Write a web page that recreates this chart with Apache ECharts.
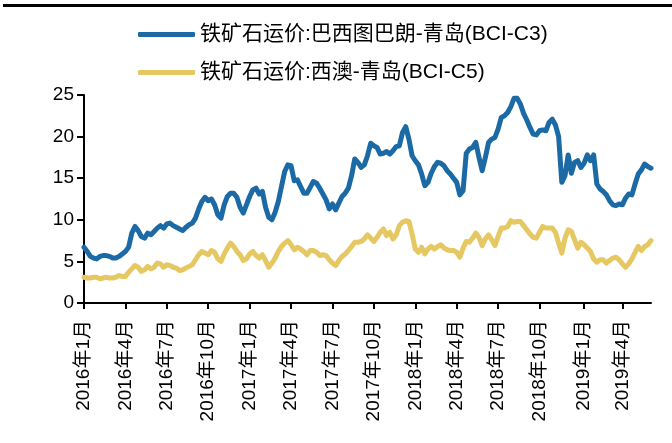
<!DOCTYPE html>
<html>
<head>
<meta charset="utf-8">
<script src="https://cdn.jsdelivr.net/npm/echarts@6/dist/echarts.min.js"></script>
<style>
  html, body { margin: 0; padding: 0; background: #fff; }
  #chart { width: 672px; height: 443px; }
</style>
</head>
<body>
<div id="chart"></div>
<script>
// 周度数据，每周五一个点，2016-01-01 起
var startDate = '2016-01-01';
var weekCount = 179;

var seriesNames = ['铁矿石运价:巴西图巴朗-青岛(BCI-C3)', '铁矿石运价:西澳-青岛(BCI-C5)'];

// 巴西图巴朗-青岛
var c3Values = [
  6.7, 6.2, 5.6, 5.4, 5.3, 5.6, 5.7, 5.7, 5.6, 5.4,
  5.4, 5.6, 5.9, 6.2, 6.7, 8.4, 9.2, 8.7, 8.0, 7.8,
  8.4, 8.2, 8.6, 9.0, 9.3, 9.0, 9.5, 9.6, 9.3, 9.1,
  8.9, 8.7, 9.1, 9.4, 9.6, 10.2, 11.3, 12.2, 12.7, 12.3,
  12.5, 11.8, 10.6, 10.2, 11.8, 12.8, 13.2, 13.2, 12.7, 11.5,
  10.8, 11.8, 12.8, 13.6, 13.8, 13.1, 13.4, 11.5, 10.3, 10.0,
  10.9, 12.2, 14.0, 15.8, 16.6, 16.5, 14.7, 14.8, 14.0, 13.2,
  13.2, 13.9, 14.6, 14.4, 13.8, 13.1, 12.4, 11.3, 11.9, 11.2,
  12.0, 12.8, 13.2, 13.8, 15.3, 17.3, 16.9, 16.3, 16.6, 17.7,
  19.2, 18.9, 18.7, 17.9, 18.0, 18.2, 17.9, 18.3, 18.8, 18.9,
  20.5, 21.2, 19.7, 17.7, 17.1, 16.6, 15.5, 14.1, 14.5, 15.6,
  16.4, 16.9, 16.8, 16.5, 15.9, 15.5, 15.0, 14.5, 13.0, 13.5,
  18.0, 18.5, 18.7, 19.3, 17.5, 15.9, 17.5, 19.3, 19.7, 19.9,
  20.9, 22.3, 22.5, 22.9, 23.6, 24.6, 24.6, 23.9, 22.8, 22.0,
  21.1, 20.3, 20.2, 20.7, 20.8, 20.7, 21.7, 22.1, 21.4, 20.0,
  14.5, 15.3, 17.8, 15.6, 16.9, 17.1, 16.3, 16.8, 17.8, 17.1,
  17.8, 14.3, 13.7, 13.4, 13.0, 12.3, 11.8, 11.7, 11.9, 11.8,
  12.6, 13.1, 13.0, 14.3, 15.5, 16.0, 16.7, 16.4, 16.2
];

// 西澳-青岛
var c5Values = [
  3.1, 3.0, 3.0, 3.1, 3.1, 2.9, 3.0, 3.1, 3.0, 3.0,
  3.1, 3.3, 3.2, 3.2, 3.7, 4.1, 4.5, 4.3, 3.8, 4.0,
  4.4, 4.1, 4.3, 4.8, 4.7, 4.3, 4.6, 4.5, 4.3, 4.2,
  3.9, 4.0, 4.2, 4.4, 4.6, 5.2, 5.8, 6.2, 6.0, 5.8,
  6.3, 6.1, 5.3, 5.0, 5.9, 6.6, 7.2, 6.8, 6.2, 5.8,
  5.1, 5.3, 5.9, 6.2, 5.7, 5.4, 5.8, 5.1, 4.3, 4.8,
  5.4, 6.2, 6.8, 7.2, 7.5, 7.0, 6.4, 6.7, 6.5, 6.2,
  5.8, 6.3, 6.3, 6.1, 5.7, 5.8, 5.7, 5.2, 4.8, 4.5,
  5.1, 5.6, 5.9, 6.3, 6.8, 7.3, 7.3, 7.4, 7.7, 8.2,
  7.8, 7.4, 7.9, 8.5, 8.9, 8.1, 8.5, 7.7, 8.2, 9.3,
  9.7, 9.9, 9.8, 8.3, 6.5, 6.1, 6.7, 5.9, 6.5, 6.8,
  6.5, 6.8, 7.0, 6.6, 6.4, 6.3, 6.3, 6.1, 5.5, 6.6,
  7.4, 7.3, 7.8, 8.4, 7.9, 6.9, 7.7, 8.2, 7.6, 6.9,
  8.0, 9.0, 9.0, 9.2, 9.9, 9.7, 9.8, 9.8, 9.3, 8.8,
  8.3, 7.9, 7.8, 8.5, 9.2, 9.0, 9.0, 9.0, 8.5, 7.2,
  6.0, 7.8, 8.8, 8.6, 7.6, 6.6, 7.3, 7.0, 6.6, 6.2,
  5.3, 4.9, 5.2, 5.2, 4.8, 5.1, 5.4, 5.5, 5.2, 4.7,
  4.3, 4.7, 5.3, 6.1, 6.8, 6.3, 6.8, 7.0, 7.5
];

var quarterMonths = [0, 3, 6, 9];

// 周日期作为类目
var dates = [];
var t0 = new Date(startDate + 'T00:00:00Z').getTime();
for (var i = 0; i < weekCount; i++) {
  var d = new Date(t0 + i * 7 * 86400000);
  dates.push(d.toISOString().slice(0, 10));
}

// 离季初1号最近的那一周打刻度
function quarterOf(value) {
  var d = new Date(new Date(value + 'T00:00:00Z').getTime() + 3 * 86400000);
  if (quarterMonths.indexOf(d.getUTCMonth()) >= 0 && d.getUTCDate() <= 7) {
    return d.getUTCFullYear() + '年' + (d.getUTCMonth() + 1) + '月';
  }
  return null;
}

var font = "'Liberation Sans', 'Noto Sans CJK SC', sans-serif";
var myChart = echarts.init(document.getElementById('chart'));

var option = {
  backgroundColor: '#fff',
  animation: false,
  graphic: [{
    type: 'rect',
    shape: { x: 3, y: 4, width: 669, height: 3 },
    style: { fill: '#000' }
  }],
  legend: {
    orient: 'vertical',
    left: 133,
    top: 19,
    itemGap: 17,
    itemWidth: 57,
    itemHeight: 5,
    icon: 'roundRect',
    textStyle: { fontSize: 21, color: '#000', fontFamily: font },
    data: seriesNames
  },
  grid: {
    left: 84,
    right: 21,
    top: 95,
    bottom: 140,
    outerBoundsMode: 'none'
  },
  xAxis: {
    type: 'category',
    boundaryGap: false,
    data: dates,
    axisLine: { lineStyle: { color: '#000', width: 2 } },
    axisTick: {
      length: 6,
      lineStyle: { color: '#000', width: 2 },
      interval: function (idx, value) { return quarterOf(value) !== null; }
    },
    axisLabel: {
      rotate: 90,
      margin: 17,
      fontSize: 19,
      color: '#000',
      fontFamily: font,
      interval: function (idx, value) { return quarterOf(value) !== null; },
      formatter: function (value) { return quarterOf(value) || ''; }
    },
    splitLine: { show: false }
  },
  yAxis: {
    type: 'value',
    min: 0,
    max: 25,
    interval: 5,
    axisLine: { show: true, lineStyle: { color: '#000', width: 2 } },
    axisTick: { show: true, length: 7, lineStyle: { color: '#000', width: 2 } },
    axisLabel: { fontSize: 19, color: '#000', fontFamily: font, margin: 10 },
    splitLine: { show: false }
  },
  series: [
    {
      name: seriesNames[0],
      type: 'line',
      data: c3Values,
      showSymbol: false,
      color: '#1B6AA5',
      lineStyle: { width: 5, color: '#1B6AA5', cap: 'round', join: 'round' }
    },
    {
      name: seriesNames[1],
      type: 'line',
      data: c5Values,
      showSymbol: false,
      color: '#E5C862',
      lineStyle: { width: 5, color: '#E5C862', cap: 'round', join: 'round' }
    }
  ]
};

myChart.setOption(option);
</script>
</body>
</html>
